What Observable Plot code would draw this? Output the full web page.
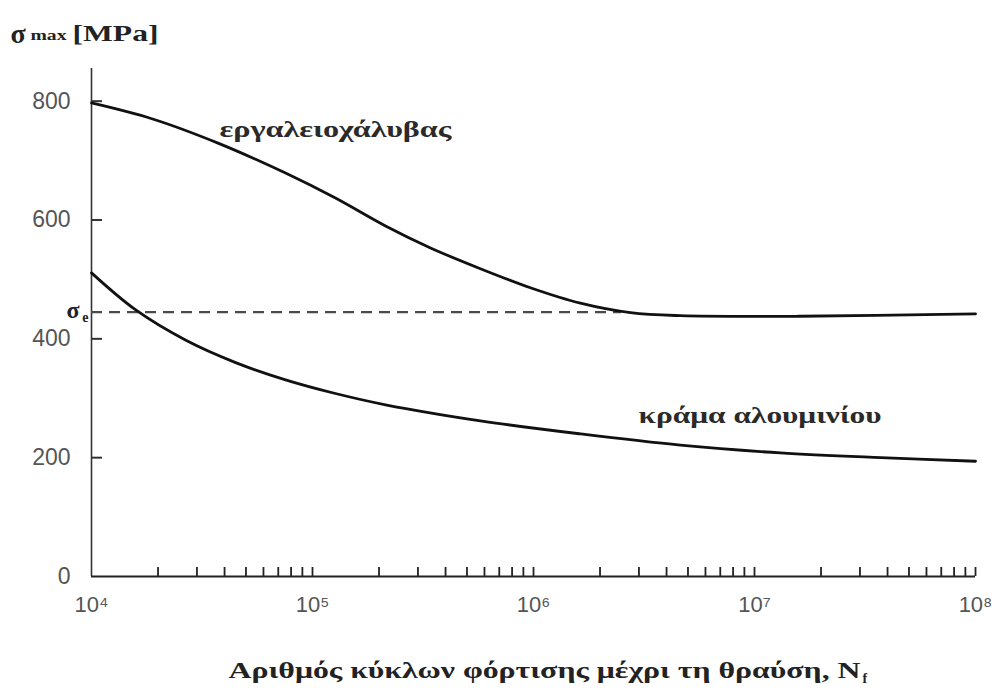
<!DOCTYPE html>
<html>
<head>
<meta charset="utf-8">
<script src="https://cdn.jsdelivr.net/npm/d3@7"></script>
<script src="https://cdn.jsdelivr.net/npm/@observablehq/plot@0.6"></script>
<style>
  html, body { margin: 0; padding: 0; background: #fff; }
  #chart svg { display: block; }
</style>
</head>
<body>
<div id="chart"></div>
<script>
// ---- data ----
const steelN = [1e4, 1.89e4, 3.76e4, 7.55e4, 1.27e5, 2.14e5, 3.42e5, 5.75e5, 9.68e5, 1.63e6, 2.75e6, 4.62e6, 1.6e7, 1e8];
const steelS = [797, 770, 729, 679, 637, 590, 553, 518, 486, 460, 444, 439, 438, 442];

const alN = [1e4, 1.58e4, 2.66e4, 4.49e4, 7.55e4, 1.27e5, 2.14e5, 5.75e5, 1.63e6, 4.62e6, 1.31e7, 3.72e7, 1e8];
const alS = [511, 449, 398, 360, 331, 308, 289, 262, 240, 221, 208, 200, 194];

const sigmaE = [445];
const sigmaERange = [1e4, 2.5e6];

const yTicks = [0, 200, 400, 600, 800];
const xDecades = [1e4, 1e5, 1e6, 1e7, 1e8];
const xMinor = [
  2e4, 3e4, 4e4, 5e4, 6e4, 7e4, 8e4, 9e4, 1e5,
  2e5, 3e5, 4e5, 5e5, 6e5, 7e5, 8e5, 9e5, 1e6,
  2e6, 3e6, 4e6, 5e6, 6e6, 7e6, 8e6, 9e6, 1e7,
  2e7, 3e7, 4e7, 5e7, 6e7, 7e7, 8e7, 9e7, 1e8
];
const superscripts = {4: "⁴", 5: "⁵", 6: "⁶", 7: "⁷", 8: "⁸"};

const seriesNames = ["εργαλειοχάλυβας", "κράμα αλουμινίου"];
const labelN = [1.27e5, 1.06e7];
const labelS = [753, 271];

const titleMain = "σ";
const titleSub = "max";
const titleUnit = "[MPa]";
const sigmaELabel = "σ";
const sigmaESub = "e";
const xTitle = "Αριθμός κύκλων φόρτισης μέχρι τη θραύση, N";
const xTitleSub = "f";

// ---- tables built from the arrays ----
const steel = steelN.map((n, i) => ({N: n, s: steelS[i]}));
const alu = alN.map((n, i) => ({N: n, s: alS[i]}));
const curveLabels = seriesNames.map((t, i) => ({t, N: labelN[i], s: labelS[i]}));

const serif = "'Liberation Serif', 'DejaVu Serif', serif";
const sans = "'Liberation Sans', Arial, sans-serif";
const ink = "#222";

const chart = Plot.plot({
  width: 998,
  height: 694,
  marginLeft: 91,
  marginRight: 23,
  marginTop: 68,
  marginBottom: 118,
  style: {background: "#fff"},
  x: {type: "log", domain: [1e4, 1e8]},
  y: {domain: [0, 855]},
  marks: [
    // y tick labels
    Plot.axisY({ticks: yTicks, tickSize: 0, tickPadding: 21, label: null,
      fontSize: 23, fontFamily: sans, fill: "#555", tickFormat: d => String(d)}),
    // y inward ticks
    Plot.axisY({ticks: yTicks.filter(d => d > 0), tickSize: 11, dx: 11, text: null, label: null,
      stroke: "#333", strokeWidth: 2}),
    // x decade labels
    Plot.axisX({ticks: xDecades, tickSize: 0, tickPadding: 20, label: null,
      fontSize: 22, fontFamily: sans, fill: "#555",
      tickFormat: d => "10" + superscripts[Math.round(Math.log10(d))]}),
    // x upward minor ticks
    Plot.axisX({ticks: xMinor, tickSize: 9, dy: -9, text: null, label: null,
      stroke: "#222", strokeWidth: 1.8}),
    // axis lines
    Plot.ruleX([1e4], {stroke: "#333", strokeWidth: 1.6}),
    Plot.ruleY([0], {stroke: "#222", strokeWidth: 2}),
    // endurance limit dashed line
    Plot.ruleY(sigmaE, {x1: sigmaERange[0], x2: sigmaERange[1], stroke: "#4a4a4a",
      strokeWidth: 2.4, strokeDasharray: "11,7"}),
    // curves
    Plot.line(steel, {x: "N", y: "s", curve: "catmull-rom", stroke: "#111", strokeWidth: 2.8}),
    Plot.line(alu, {x: "N", y: "s", curve: "catmull-rom", stroke: "#111", strokeWidth: 2.8}),
    // curve labels
    Plot.text(curveLabels, {x: "N", y: "s", text: "t", fontSize: 24, fontWeight: "bold",
      fontFamily: serif, fill: "#2a2a2a"}),
    // sigma_e label
    Plot.text(sigmaE, {x: () => sigmaERange[0], y: d => d, text: () => sigmaELabel, textAnchor: "end",
      dx: -12, dy: -2, fontSize: 24, fontWeight: "bold", fontFamily: serif, fill: ink}),
    Plot.text(sigmaE, {x: () => sigmaERange[0], y: d => d, text: () => sigmaESub, textAnchor: "end",
      dx: -3, dy: 5, fontSize: 14, fontWeight: "bold", fontFamily: serif, fill: ink}),
    // y title
    Plot.text([titleMain], {frameAnchor: "top-left", textAnchor: "start", dx: -81, dy: -45,
      fontSize: 28, fontWeight: "bold", fontFamily: serif, fill: ink}),
    Plot.text([titleSub], {frameAnchor: "top-left", textAnchor: "start", dx: -61, dy: -39,
      fontSize: 15, fontWeight: "bold", fontFamily: serif, fill: ink}),
    Plot.text([titleUnit], {frameAnchor: "top-left", textAnchor: "start", dx: -19, dy: -44,
      fontSize: 23, fontWeight: "bold", fontFamily: serif, fill: ink}),
    // x title
    Plot.text([xTitle], {frameAnchor: "bottom-left", textAnchor: "start", dx: 137, dy: 101,
      fontSize: 23, fontWeight: "bold", fontFamily: serif, fill: ink}),
    Plot.text([xTitleSub], {frameAnchor: "bottom-left", textAnchor: "start", dx: 771, dy: 106,
      fontSize: 14, fontWeight: "bold", fontFamily: serif, fill: ink})
  ]
});

document.getElementById("chart").append(chart);

// stretch the serif labels horizontally, as in the (widened) reference
const svg = d3.select(chart);
function fit(str, len) {
  svg.selectAll("text")
    .filter(function() { return this.textContent === str; })
    .attr("textLength", len)
    .attr("lengthAdjust", "spacingAndGlyphs");
}
fit(seriesNames[0], 232);
fit(seriesNames[1], 243);
fit(titleUnit, 86);
fit(titleSub, 36);
fit(xTitle, 632);
</script>
</body>
</html>
